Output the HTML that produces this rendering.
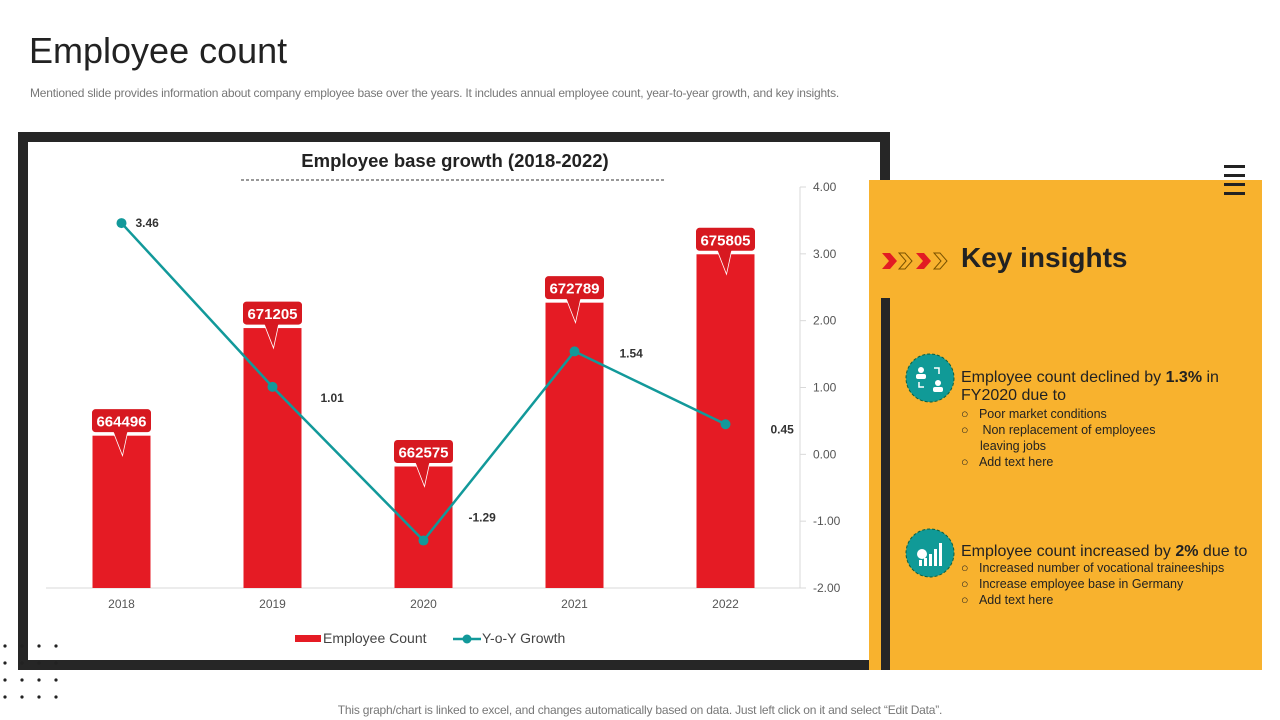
<!DOCTYPE html>
<html><head><meta charset="utf-8"><style>
body{margin:0;width:1280px;height:720px;background:#fff;position:relative;overflow:hidden;font-family:"Liberation Sans",sans-serif}
.abs{position:absolute}
</style></head><body>
<div class="abs" style="left:29px;top:30px;font-size:36px;color:#222">Employee count</div>
<div class="abs" style="left:30px;top:86px;font-size:12px;color:#777;letter-spacing:-0.2px">Mentioned slide provides information about company employee base over the years. It includes annual employee count, year-to-year growth, and key insights.</div>
<div class="abs" style="left:18px;top:132px;width:852px;height:518px;border:10px solid #262626;background:#fff"></div>
<div class="abs" style="left:869px;top:180px;width:393px;height:490px;background:#f8b22e"></div>
<div class="abs" style="left:881px;top:298px;width:9px;height:372px;background:#262626"></div>
<div class="abs" style="left:1224px;top:165px;width:21px">
<div style="height:3px;background:#222;margin-bottom:6px"></div><div style="height:3px;background:#222;margin-bottom:6px"></div><div style="height:3px;background:#222;margin-bottom:6px"></div><div style="height:3px;background:#222"></div></div>
<svg class="abs" style="left:880px;top:250px" width="72" height="22">
<path d="M2 3 L10 3 L17 11 L10 19 L2 19 L9 11Z" fill="#e21b23"/>
<path d="M19 3 L25 3 L32 11 L25 19 L19 19 L26 11Z" fill="none" stroke="#7a5200" stroke-width="1"/>
<path d="M36 3 L44 3 L51 11 L44 19 L36 19 L43 11Z" fill="#e21b23"/>
<path d="M54 3 L60 3 L67 11 L60 19 L54 19 L61 11Z" fill="none" stroke="#7a5200" stroke-width="1"/></svg>
<div class="abs" style="left:961px;top:242px;font-size:28px;font-weight:bold;color:#222">Key insights</div>
<svg class="abs" style="left:905px;top:353px" width="50" height="50">
<circle cx="25" cy="25" r="24" fill="#109a97" stroke="#0d5f3f" stroke-dasharray="3,2"/>
<circle cx="16" cy="17" r="3" fill="#fff"/><rect x="11" y="21" width="10" height="5" rx="2" fill="#fff"/>
<circle cx="33" cy="30" r="3" fill="#fff"/><rect x="28" y="34" width="10" height="5" rx="2" fill="#fff"/>
<path d="M29 15 H34 V21 M14 29 V34 H19" stroke="#fff" stroke-width="1.5" fill="none"/></svg>
<div class="abs" style="left:961px;top:369px;width:290px;font-size:16px;color:#222;line-height:18px">Employee count declined by <b>1.3%</b> in FY2020 due to
<div style="font-size:12.5px;line-height:16px;margin-top:1px">
<div>○&nbsp;&nbsp;&nbsp;Poor market conditions</div><div>○&nbsp;&nbsp;&nbsp;&nbsp;Non replacement of employees</div><div style="padding-left:19px">leaving jobs</div><div>○&nbsp;&nbsp;&nbsp;Add text here</div></div></div>
<svg class="abs" style="left:905px;top:528px" width="50" height="50">
<circle cx="25" cy="25" r="24" fill="#109a97" stroke="#0d5f3f" stroke-dasharray="3,2"/>
<circle cx="17" cy="26" r="5" fill="#fff"/>
<rect x="14" y="32" width="3" height="6" fill="#fff"/><rect x="19" y="30" width="3" height="8" fill="#fff"/><rect x="24" y="26" width="3" height="12" fill="#fff"/><rect x="29" y="21" width="3" height="17" fill="#fff"/><rect x="34" y="15" width="3" height="23" fill="#fff"/></svg>
<div class="abs" style="left:961px;top:543px;width:300px;font-size:16px;color:#222;line-height:18px">Employee count increased by <b>2%</b> due to
<div style="font-size:12.5px;line-height:16px;margin-top:-1px">
<div>○&nbsp;&nbsp;&nbsp;Increased number of vocational traineeships</div><div>○&nbsp;&nbsp;&nbsp;Increase employee base in Germany</div><div>○&nbsp;&nbsp;&nbsp;Add text here</div></div></div>
<div class="abs" style="left:0;width:1280px;text-align:center;top:703px;font-size:12px;color:#777;letter-spacing:-0.2px">This graph/chart is linked to excel, and changes automatically based on data. Just left click on it and select “Edit Data”.</div>
<svg class="abs" style="left:0;top:640px" width="60" height="60" id="dots"></svg>
<svg class="abs" id="chart" style="left:0;top:0" width="870" height="660"></svg>
<script>
const categories=["2018","2019","2020","2021","2022"];
const employeeCount=[664496,671205,662575,672789,675805];
const yoyGrowth=[3.46,1.01,-1.29,1.54,0.45];
const rightTicks=[4,3,2,1,0,-1,-2];
const NS="http://www.w3.org/2000/svg";
const svg=document.getElementById('chart');
function mk(t,a,p){const e=document.createElementNS(NS,t);for(const k in a)e.setAttribute(k,a[k]);(p||svg).appendChild(e);return e;}
const x0=46,bw=151,yTop=187,yBot=588;
const xc=i=>x0+bw*(i+0.5);
const yL=v=>yBot-(v-655000)/(680000-655000)*(yBot-yTop);
const yR=v=>yBot-(v+2)/6*(yBot-yTop);
let t=mk('text',{x:455,y:167,'text-anchor':'middle','font-size':18.5,'font-weight':'bold',fill:'#222'});t.textContent="Employee base growth (2018-2022)";


mk('line',{x1:241,x2:666,y1:180,y2:180,stroke:'#333','stroke-dasharray':'3,2'});
let ax=mk('line',{x1:x0,x2:800,y1:yBot,y2:yBot,stroke:'#d9d9d9'});


mk('line',{x1:800,x2:800,y1:yTop,y2:yBot,stroke:'#d9d9d9'});
rightTicks.forEach(v=>{mk('line',{x1:800,x2:806,y1:yR(v),y2:yR(v),stroke:'#d9d9d9'});
const e=mk('text',{x:813,y:yR(v)+4,'font-size':12,fill:'#555'});e.textContent=v.toFixed(2);

});
categories.forEach((c,i)=>{const e=mk('text',{x:xc(i),y:608,'text-anchor':'middle','font-size':12,fill:'#555'});e.textContent=c;

});
employeeCount.forEach((v,i)=>{const x=xc(i),y=yL(v);
const b=mk('rect',{x:x-29,y:y,width:58,height:yBot-y,fill:'#e51b24'});


mk('rect',{x:x-30,y:y-27,width:60,height:24,rx:4,fill:'#d71920',stroke:'#fff','stroke-width':1});
mk('path',{d:`M${x-8} ${y-4} L${x+1} ${y+20} L${x+6} ${y-4}Z`,fill:'#d71920'});
mk('path',{d:`M${x-8} ${y-3} L${x+1} ${y+20} L${x+6} ${y-3}`,fill:'none',stroke:'#fff','stroke-width':0.8});
const l=mk('text',{x:x,y:y-9,'text-anchor':'middle','font-size':15,'font-weight':'bold',fill:'#fff'});l.textContent=v;

});
const pts=yoyGrowth.map((v,i)=>xc(i)+','+yR(v)).join(' ');
const pl=mk('polyline',{points:pts,fill:'none',stroke:'#12999a','stroke-width':2.5});


const dxs=[14,48,45,45,45],dys=[4,15,-19,6,9];
yoyGrowth.forEach((v,i)=>{const p=mk('circle',{cx:xc(i),cy:yR(v),r:5,fill:'#12999a'});


const l=mk('text',{x:xc(i)+dxs[i],y:yR(v)+dys[i],'font-size':12,'font-weight':'bold',fill:'#333'});l.textContent=v.toFixed(2);

});
mk('rect',{x:295,y:635,width:26,height:7,fill:'#e51b24'});
let lg=mk('text',{x:323,y:643,'font-size':14,fill:'#444'});lg.textContent="Employee Count";


mk('line',{x1:453,x2:481,y1:639,y2:639,stroke:'#12999a','stroke-width':2.5});
mk('circle',{cx:467,cy:639,r:4.5,fill:'#12999a'});
lg=mk('text',{x:482,y:643,'font-size':14,fill:'#444'});lg.textContent="Y-o-Y Growth";


const d=document.getElementById('dots');
for(let r=0;r<4;r++)for(let c=0;c<4;c++){const e=document.createElementNS(NS,'circle');e.setAttribute('cx',5+c*17);e.setAttribute('cy',6+r*17);e.setAttribute('r',1.6);e.setAttribute('fill','#222');d.appendChild(e);}
</script>
</body></html>
